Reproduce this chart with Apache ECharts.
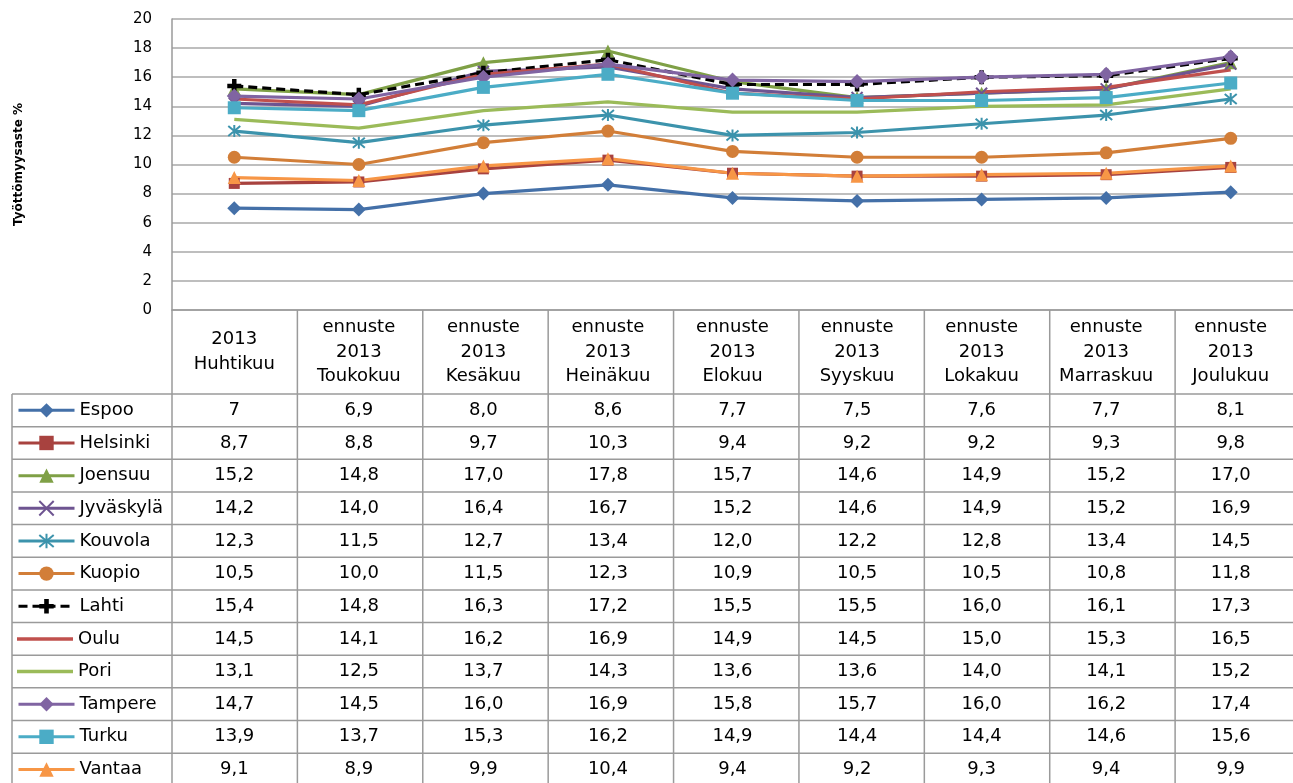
<!DOCTYPE html>
<html>
<head>
<meta charset="utf-8">
<script src="https://cdn.jsdelivr.net/npm/echarts@6/dist/echarts.min.js"></script>
<style>
html, body { margin: 0; padding: 0; background: #fff; }
#chart { width: 1293px; height: 783px; }
</style>
</head>
<body>
<div id="chart"></div>
<script>
// kuukaudet (otsikkorivi)
var months = ['2013\nHuhtikuu', 'ennuste\n2013\nToukokuu', 'ennuste\n2013\nKesäkuu', 'ennuste\n2013\nHeinäkuu',
  'ennuste\n2013\nElokuu', 'ennuste\n2013\nSyyskuu', 'ennuste\n2013\nLokakuu', 'ennuste\n2013\nMarraskuu', 'ennuste\n2013\nJoulukuu'];

// arvot kuten taulukossa
var espoo     = ['7', '6,9', '8,0', '8,6', '7,7', '7,5', '7,6', '7,7', '8,1'];
var helsinki  = ['8,7', '8,8', '9,7', '10,3', '9,4', '9,2', '9,2', '9,3', '9,8'];
var joensuu   = ['15,2', '14,8', '17,0', '17,8', '15,7', '14,6', '14,9', '15,2', '17,0'];
var jyvaskyla = ['14,2', '14,0', '16,4', '16,7', '15,2', '14,6', '14,9', '15,2', '16,9'];
var kouvola   = ['12,3', '11,5', '12,7', '13,4', '12,0', '12,2', '12,8', '13,4', '14,5'];
var kuopio    = ['10,5', '10,0', '11,5', '12,3', '10,9', '10,5', '10,5', '10,8', '11,8'];
var lahti     = ['15,4', '14,8', '16,3', '17,2', '15,5', '15,5', '16,0', '16,1', '17,3'];
var oulu      = ['14,5', '14,1', '16,2', '16,9', '14,9', '14,5', '15,0', '15,3', '16,5'];
var pori      = ['13,1', '12,5', '13,7', '14,3', '13,6', '13,6', '14,0', '14,1', '15,2'];
var tampere   = ['14,7', '14,5', '16,0', '16,9', '15,8', '15,7', '16,0', '16,2', '17,4'];
var turku     = ['13,9', '13,7', '15,3', '16,2', '14,9', '14,4', '14,4', '14,6', '15,6'];
var vantaa    = ['9,1', '8,9', '9,9', '10,4', '9,4', '9,2', '9,3', '9,4', '9,9'];

var X_MARK = 'path://M0,0 L10,10 M10,0 L0,10';
var STAR_MARK = 'path://M0,0 L10,10 M10,0 L0,10 M5,-1 L5,11';
var PLUS_MARK = 'path://M3.4,0 H6.6 V3.4 H10 V6.6 H6.6 V10 H3.4 V6.6 H0 V3.4 H3.4 Z';

var cities = [
  { name: 'Espoo', vals: espoo, color: '#4470A8', symbol: 'diamond', size: 14 },
  { name: 'Helsinki', vals: helsinki, color: '#A8423F', symbol: 'rect', size: 11 },
  { name: 'Joensuu', vals: joensuu, color: '#7FA046', symbol: 'triangle', size: 13 },
  { name: 'Jyväskylä', vals: jyvaskyla, color: '#6E5491', symbol: X_MARK, size: 11, stroke: true },
  { name: 'Kouvola', vals: kouvola, color: '#3C93AC', symbol: STAR_MARK, size: 12, stroke: true },
  { name: 'Kuopio', vals: kuopio, color: '#D27E38', symbol: 'circle', size: 13 },
  { name: 'Lahti', vals: lahti, color: '#000000', symbol: PLUS_MARK, size: 14, dashed: true },
  { name: 'Oulu', vals: oulu, color: '#C0504D', symbol: 'none', size: 0 },
  { name: 'Pori', vals: pori, color: '#9BBB59', symbol: 'none', size: 0 },
  { name: 'Tampere', vals: tampere, color: '#8064A2', symbol: 'diamond', size: 15 },
  { name: 'Turku', vals: turku, color: '#4BACC6', symbol: 'rect', size: 13 },
  { name: 'Vantaa', vals: vantaa, color: '#F79646', symbol: 'triangle', size: 13 }
];

function num(s) { return parseFloat(s.replace(',', '.')); }

var FONT = 'DejaVu Sans';
var GRID_LEFT = 172, GRID_TOP = 19, AXIS_Y = 310;
var TABLE_LEFT = 12, ROW_TOP = 394, ROW_H = 32.65, TABLE_RIGHT = 1300.5;
var LINE_COL = '#9a9a9a';
var LEG_TEXT_H = 20;

var chart = echarts.init(document.getElementById('chart'));

var series = cities.map(function (c) {
  return {
    name: c.name,
    type: 'line',
    data: c.vals.map(num),
    symbol: c.symbol,
    symbolSize: c.size,
    showSymbol: c.symbol !== 'none',
    lineStyle: { color: c.color, width: 3.2, type: c.dashed ? [9, 5] : 'solid' },
    itemStyle: c.stroke
      ? { color: c.color, borderColor: c.color, borderWidth: 2 }
      : { color: c.color, borderWidth: 0 },
    emphasis: { disabled: true },
    animation: false
  };
});

// yksi selite per taulukon rivi
var legends = cities.map(function (c, r) {
  var noMark = c.symbol === 'none';
  return {
    orient: 'vertical',
    left: 17,
    top: ROW_TOP + ROW_H * (r + 0.5) - LEG_TEXT_H / 2,
    padding: 0,
    itemWidth: 56,
    itemHeight: noMark ? 3.5 : 18,
    itemGap: 5,
    selectedMode: false,
    lineStyle: { width: 3 },
    textStyle: { fontFamily: FONT, fontSize: 18, color: '#000', lineHeight: LEG_TEXT_H },
    data: [noMark ? { name: c.name, icon: 'rect' } : c.name]
  };
});

var option = {
  animation: false,
  grid: { left: GRID_LEFT, top: GRID_TOP, right: 1293 - TABLE_RIGHT, bottom: 783 - AXIS_Y, containLabel: false },
  legend: legends,
  xAxis: {
    type: 'category',
    data: months,
    boundaryGap: true,
    axisLine: { show: true, lineStyle: { color: LINE_COL, width: 1.5 } },
    axisTick: { show: false },
    axisLabel: {
      interval: 0,
      fontFamily: FONT,
      fontSize: 18,
      lineHeight: 24.5,
      color: '#000',
      verticalAlign: 'middle',
      margin: (ROW_TOP - AXIS_Y) / 2
    }
  },
  yAxis: {
    type: 'value',
    min: 0,
    max: 20,
    interval: 2,
    name: 'Työttömyysaste %',
    nameLocation: 'middle',
    nameRotate: 90,
    nameGap: 147,
    nameTextStyle: { fontFamily: FONT, fontSize: 12, fontWeight: 'bold', color: '#000' },
    axisLine: { show: true, lineStyle: { color: LINE_COL, width: 1.5 } },
    axisTick: { show: false },
    axisLabel: { fontFamily: FONT, fontSize: 15, color: '#000', margin: 20 },
    splitLine: { lineStyle: { color: '#a8a8a8', width: 1.5 } }
  },
  series: series
};
chart.setOption(option);

// taulukko: viivat ja solut
var nCols = months.length;
var colW = (TABLE_RIGHT - GRID_LEFT) / nCols;
var bottom = ROW_TOP + ROW_H * cities.length;
var g = [];
function line(x1, y1, x2, y2) {
  g.push({ type: 'line', silent: true, shape: { x1: x1, y1: y1, x2: x2, y2: y2 },
    style: { stroke: LINE_COL, lineWidth: 1.5 } });
}
for (var k = 0; k <= cities.length; k++) {
  line(TABLE_LEFT, ROW_TOP + k * ROW_H, TABLE_RIGHT, ROW_TOP + k * ROW_H);
}
line(TABLE_LEFT, ROW_TOP, TABLE_LEFT, bottom);
for (var c = 0; c <= nCols; c++) {
  var x = GRID_LEFT + c * colW;
  line(x, AXIS_Y, x, bottom);
}
cities.forEach(function (city, r) {
  city.vals.forEach(function (s, i) {
    var cx = chart.convertToPixel({ xAxisIndex: 0 }, i);
    g.push({
      type: 'text', silent: true,
      x: cx, y: ROW_TOP + ROW_H * (r + 0.5),
      style: { text: s, fontFamily: FONT, fontSize: 18, fill: '#000', align: 'center', verticalAlign: 'middle' }
    });
  });
});
chart.setOption({ graphic: g });
</script>
</body>
</html>
